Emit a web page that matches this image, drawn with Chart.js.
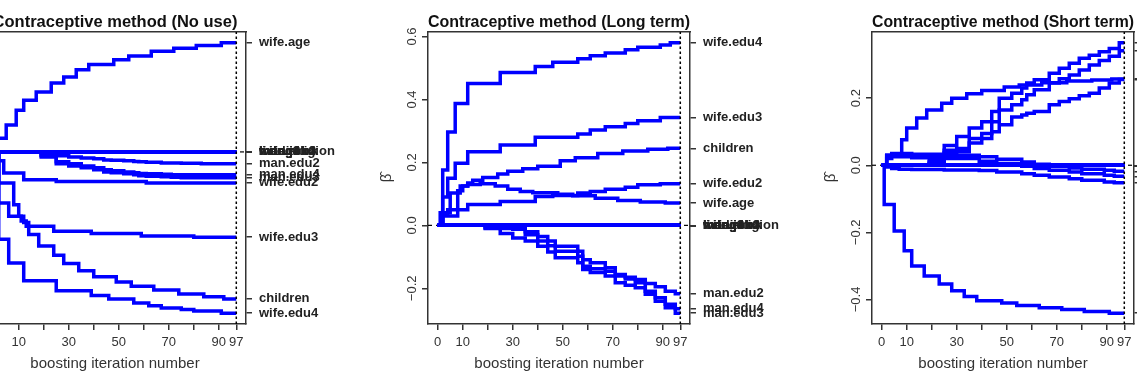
<!DOCTYPE html>
<html>
<head>
<meta charset="utf-8">
<script src="https://cdn.jsdelivr.net/npm/chart.js@4.4.1/dist/chart.umd.min.js"></script>
<style>
  html, body { margin: 0; padding: 0; background: #fff; overflow: hidden; width: 1137px; height: 391px; }
  canvas { position: absolute; top: 0; }
</style>
</head>
<body>
<canvas id="noUse" width="442" height="391" style="left:-76px"></canvas>
<canvas id="longTerm" width="442" height="391" style="left:368px"></canvas>
<canvas id="shortTerm" width="442" height="391" style="left:812px"></canvas>
<script>
// axis ticks
const mstop = 97;
const xTicks = [0, 10, 20, 30, 40, 50, 60, 70, 80, 90, 97];
const xTickLabels = [0, 10, 30, 50, 70, 90, 97];
const yTicksNoUse = [-0.4, -0.2, 0, 0.2, 0.4];
const yTicksLongTerm = [-0.2, 0, 0.2, 0.4, 0.6];
const yTicksShortTerm = [-0.4, -0.2, 0, 0.2];

const varNames = ['wife.age', 'wife.edu2', 'wife.edu3', 'wife.edu4', 'man.edu2', 'man.edu3', 'man.edu4', 'children',
  'wife.religion', 'wife.work', 'man.job2', 'man.job3', 'man.job4', 'living2', 'living3', 'living4', 'media'];

// coefficient paths: [iteration, coefficient] at each change
const zeroPath = [[0, 0], [97, 0]];

// No use
const noUse_wifeAge = [[0,0],[1,0.046],[5,0.09],[9,0.14],[12,0.173],[17,0.201],[23,0.231],[28,0.251],[33,0.276],[38,0.293],[48,0.309],[54,0.322],[63,0.338],[72,0.348],[81,0.357],[91,0.366],[97,0.366]];
const noUse_wifeEdu2 = [[0,0],[2,-0.03],[4,-0.071],[12,-0.093],[25,-0.099],[61,-0.104],[97,-0.104]];
const noUse_wifeEdu3 = [[0,0],[2,-0.171],[6,-0.216],[11,-0.232],[13,-0.249],[24,-0.266],[39,-0.274],[59,-0.282],[80,-0.286],[97,-0.286]];
const noUse_wifeEdu4 = [[0,0],[2,-0.293],[6,-0.373],[12,-0.432],[25,-0.466],[39,-0.482],[46,-0.493],[56,-0.507],[62,-0.516],[67,-0.524],[75,-0.529],[80,-0.534],[91,-0.541],[97,-0.541]];
const noUse_manEdu2 = [[0,0],[19,-0.01],[25,-0.013],[30,-0.017],[35,-0.02],[40,-0.023],[44,-0.027],[47,-0.028],[52,-0.03],[56,-0.032],[58,-0.033],[61,-0.035],[67,-0.037],[75,-0.038],[83,-0.04],[97,-0.04]];
const noUse_manEdu3 = [[0,0],[19,-0.017],[25,-0.04],[30,-0.047],[35,-0.053],[40,-0.06],[44,-0.067],[47,-0.07],[52,-0.073],[56,-0.077],[58,-0.08],[61,-0.082],[67,-0.083],[71,-0.085],[75,-0.087],[97,-0.087]];
const noUse_manEdu4 = [[0,0],[19,-0.013],[25,-0.033],[30,-0.04],[35,-0.047],[40,-0.053],[44,-0.06],[47,-0.063],[52,-0.067],[56,-0.07],[58,-0.072],[61,-0.073],[67,-0.075],[71,-0.077],[97,-0.077]];
const noUse_children = [[0,0],[2,-0.104],[8,-0.177],[10,-0.216],[12,-0.237],[14,-0.277],[18,-0.316],[24,-0.347],[28,-0.374],[34,-0.399],[40,-0.419],[49,-0.436],[55,-0.451],[64,-0.463],[74,-0.477],[84,-0.486],[92,-0.493],[97,-0.493]];

// Long term
const longTerm_wifeAge = [[0,0],[1,0.04],[5,0.103],[9,0.125],[12,0.13],[17,0.132],[23,0.125],[28,0.115],[33,0.108],[38,0.104],[48,0.099],[54,0.094],[63,0.086],[72,0.079],[81,0.074],[91,0.071],[97,0.071]];
const longTerm_wifeEdu2 = [[0,0],[2,0.033],[4,0.05],[12,0.066],[25,0.076],[39,0.092],[46,0.095],[56,0.103],[61,0.108],[67,0.115],[75,0.121],[80,0.129],[89,0.132],[97,0.132]];
const longTerm_wifeEdu3 = [[0,0],[2,0.09],[4,0.15],[7,0.197],[12,0.234],[25,0.255],[39,0.28],[56,0.29],[61,0.303],[67,0.313],[75,0.324],[80,0.332],[89,0.343],[97,0.343]];
const longTerm_wifeEdu4 = [[0,0],[2,0.176],[4,0.297],[7,0.387],[12,0.451],[25,0.486],[39,0.505],[46,0.518],[56,0.529],[61,0.539],[67,0.548],[75,0.558],[80,0.566],[89,0.573],[93,0.58],[97,0.58]];
const longTerm_manEdu2 = [[0,0],[19,-0.005],[25,-0.008],[30,-0.01],[35,-0.02],[40,-0.035],[44,-0.05],[47,-0.066],[56,-0.082],[58,-0.109],[61,-0.119],[67,-0.135],[71,-0.156],[75,-0.165],[79,-0.172],[83,-0.185],[87,-0.195],[91,-0.209],[95,-0.217],[97,-0.217]];
const longTerm_manEdu3 = [[0,0],[19,-0.01],[25,-0.026],[30,-0.04],[35,-0.05],[40,-0.066],[44,-0.085],[47,-0.103],[56,-0.119],[58,-0.14],[61,-0.15],[67,-0.161],[71,-0.182],[75,-0.19],[79,-0.198],[83,-0.219],[87,-0.241],[91,-0.262],[95,-0.279],[97,-0.279]];
const longTerm_manEdu4 = [[0,0],[19,-0.008],[25,-0.01],[30,-0.012],[35,-0.03],[40,-0.05],[44,-0.065],[47,-0.082],[56,-0.098],[58,-0.13],[61,-0.138],[67,-0.146],[71,-0.161],[75,-0.17],[79,-0.182],[83,-0.209],[87,-0.23],[91,-0.251],[95,-0.265],[97,-0.265]];
const longTerm_children = [[0,0],[2,0.03],[8,0.11],[10,0.125],[12,0.135],[14,0.143],[18,0.152],[24,0.163],[28,0.172],[34,0.18],[40,0.188],[49,0.205],[55,0.215],[64,0.228],[74,0.236],[84,0.242],[92,0.245],[97,0.245]];

// Short term
const shortTerm_wifeAge = [[0,0],[1,-0.117],[5,-0.196],[9,-0.255],[12,-0.3],[17,-0.33],[23,-0.354],[28,-0.374],[33,-0.391],[38,-0.404],[48,-0.411],[54,-0.418],[63,-0.425],[72,-0.43],[81,-0.436],[91,-0.441],[97,-0.441]];
const shortTerm_wifeEdu2 = [[0,0],[2,0.03],[4,0.035],[12,0.033],[25,0.03],[39,0.025],[46,0.018],[56,0.01],[61,0.003],[67,-0.003],[75,-0.008],[80,-0.012],[89,-0.015],[93,-0.018],[97,-0.018]];
const shortTerm_wifeEdu3 = [[0,0],[2,0.02],[4,0.025],[12,0.022],[25,0.02],[39,0.012],[46,0.005],[56,-0.003],[61,-0.01],[67,-0.015],[75,-0.02],[80,-0.025],[89,-0.03],[93,-0.033],[97,-0.033]];
const shortTerm_wifeEdu4 = [[0,0],[2,-0.005],[4,-0.01],[7,-0.012],[12,-0.013],[25,-0.014],[39,-0.016],[46,-0.02],[56,-0.025],[61,-0.03],[67,-0.035],[75,-0.04],[80,-0.045],[89,-0.05],[93,-0.052],[97,-0.052]];
const shortTerm_manEdu2 = [[0,0],[19,0.005],[25,0.037],[30,0.04],[35,0.066],[40,0.08],[44,0.1],[47,0.121],[52,0.144],[56,0.15],[58,0.155],[61,0.16],[67,0.18],[71,0.19],[75,0.198],[79,0.207],[83,0.215],[87,0.23],[91,0.245],[95,0.256],[97,0.256]];
const shortTerm_manEdu3 = [[0,0],[19,0.015],[25,0.059],[30,0.086],[35,0.111],[40,0.13],[44,0.16],[47,0.2],[52,0.215],[56,0.23],[58,0.245],[61,0.255],[67,0.274],[71,0.289],[75,0.304],[79,0.319],[83,0.328],[87,0.338],[91,0.348],[95,0.365],[97,0.365]];
const shortTerm_manEdu4 = [[0,0],[19,0.01],[25,0.045],[30,0.05],[35,0.08],[40,0.095],[44,0.13],[47,0.165],[52,0.18],[56,0.195],[58,0.21],[61,0.225],[67,0.245],[71,0.258],[75,0.269],[79,0.284],[83,0.299],[87,0.312],[91,0.325],[95,0.341],[97,0.341]];
const shortTerm_children = [[0,0],[2,0.03],[8,0.076],[10,0.111],[14,0.141],[18,0.165],[24,0.185],[28,0.2],[34,0.213],[40,0.223],[49,0.233],[55,0.239],[64,0.246],[74,0.251],[84,0.254],[92,0.257],[97,0.257]];

const zeros = Array(9).fill(zeroPath);

Chart.defaults.font.family = '"Liberation Sans", Arial, sans-serif';
const ink = '#333';

// R-style axis range: data range plus 4% each side
function padRange(lo, hi) {
  const d = 0.04 * (hi - lo);
  return [lo - d, hi + d];
}

function fmt(v) {
  return (v < 0 ? '\u2212' : '') + Math.abs(v).toFixed(1);
}

function drawPanel(id, title, paths, yTicks) {
  const all = paths.flat().map(p => p[1]);
  const [yMin, yMax] = padRange(Math.min(...all), Math.max(...all));
  const [xMin, xMax] = padRange(0, mstop);
  const finals = paths.map(p => p[p.length - 1][1]);

  const datasets = paths.map(p => ({
    data: p, borderColor: '#0000ff', borderWidth: 3.5, stepped: true,
    pointRadius: 0, fill: false, order: 0
  }));
  datasets.push({ data: [[xMin, 0], [xMax, 0]], borderColor: '#000', borderWidth: 1.2,
    borderDash: [4, 4], pointRadius: 0, order: 5 });
  datasets.push({ data: [[mstop, yMin], [mstop, yMax]], borderColor: '#000', borderWidth: 1.5,
    borderDash: [2.5, 2.5], pointRadius: 0, order: -1 });

  const axisGrid = { drawOnChartArea: false, tickLength: 6, color: ink, lineWidth: 1.5 };
  const axisBorder = { display: true, color: ink, width: 1.5 };

  new Chart(document.getElementById(id), {
    type: 'line',
    data: { datasets },
    options: {
      responsive: false, animation: false, devicePixelRatio: 1,
      layout: { padding: 0 },
      plugins: { legend: { display: false }, tooltip: { enabled: false } },
      scales: {
        x: {
          type: 'linear', position: 'bottom', min: xMin, max: xMax,
          afterBuildTicks: ax => { ax.ticks = xTicks.map(v => ({ value: v })); },
          afterFit: ax => { ax.height = 67; },
          ticks: { autoSkip: false, maxRotation: 0, color: ink, font: { size: 13 }, padding: 5,
            callback: v => xTickLabels.includes(v) ? String(v) : '' },
          grid: axisGrid, border: axisBorder,
          title: { display: true, text: 'boosting iteration number', color: ink,
            font: { size: 15 }, padding: { top: 0, bottom: 18 } }
        },
        xTop: {
          type: 'linear', position: 'top', min: xMin, max: xMax,
          afterFit: ax => { ax.height = 32; },
          ticks: { display: false }, grid: { display: false }, border: axisBorder,
          title: { display: true, text: title, color: '#111',
            font: { size: 16.5, weight: 'bold' }, padding: { top: 13, bottom: 0 } }
        },
        y: {
          type: 'linear', position: 'left', min: yMin, max: yMax,
          afterBuildTicks: ax => { ax.ticks = yTicks.map(v => ({ value: v })); },
          afterFit: ax => { ax.width = 60; },
          ticks: { autoSkip: false, minRotation: 90, maxRotation: 90, crossAlign: 'center',
            padding: -3, color: ink, font: { size: 13 }, callback: v => fmt(v) },
          grid: axisGrid, border: axisBorder,
          title: { display: true, text: '\u03B2\u0302', color: ink, font: { size: 15 },
            padding: { top: 10, bottom: 0 } }
        },
        yRight: {
          type: 'linear', position: 'right', min: yMin, max: yMax,
          afterBuildTicks: ax => { ax.ticks = finals.map(v => ({ value: v })); },
          afterFit: ax => { ax.width = 120; },
          ticks: { autoSkip: false, color: '#222', font: { size: 13, weight: 'bold' }, padding: 7,
            callback: (v, i) => varNames[i] },
          grid: axisGrid, border: axisBorder
        }
      }
    }
  });
}

drawPanel('noUse', 'Contraceptive method (No use)',
  [noUse_wifeAge, noUse_wifeEdu2, noUse_wifeEdu3, noUse_wifeEdu4, noUse_manEdu2, noUse_manEdu3, noUse_manEdu4, noUse_children, ...zeros],
  yTicksNoUse);
drawPanel('longTerm', 'Contraceptive method (Long term)',
  [longTerm_wifeAge, longTerm_wifeEdu2, longTerm_wifeEdu3, longTerm_wifeEdu4, longTerm_manEdu2, longTerm_manEdu3, longTerm_manEdu4, longTerm_children, ...zeros],
  yTicksLongTerm);
drawPanel('shortTerm', 'Contraceptive method (Short term)',
  [shortTerm_wifeAge, shortTerm_wifeEdu2, shortTerm_wifeEdu3, shortTerm_wifeEdu4, shortTerm_manEdu2, shortTerm_manEdu3, shortTerm_manEdu4, shortTerm_children, ...zeros],
  yTicksShortTerm);
</script>
</body>
</html>
